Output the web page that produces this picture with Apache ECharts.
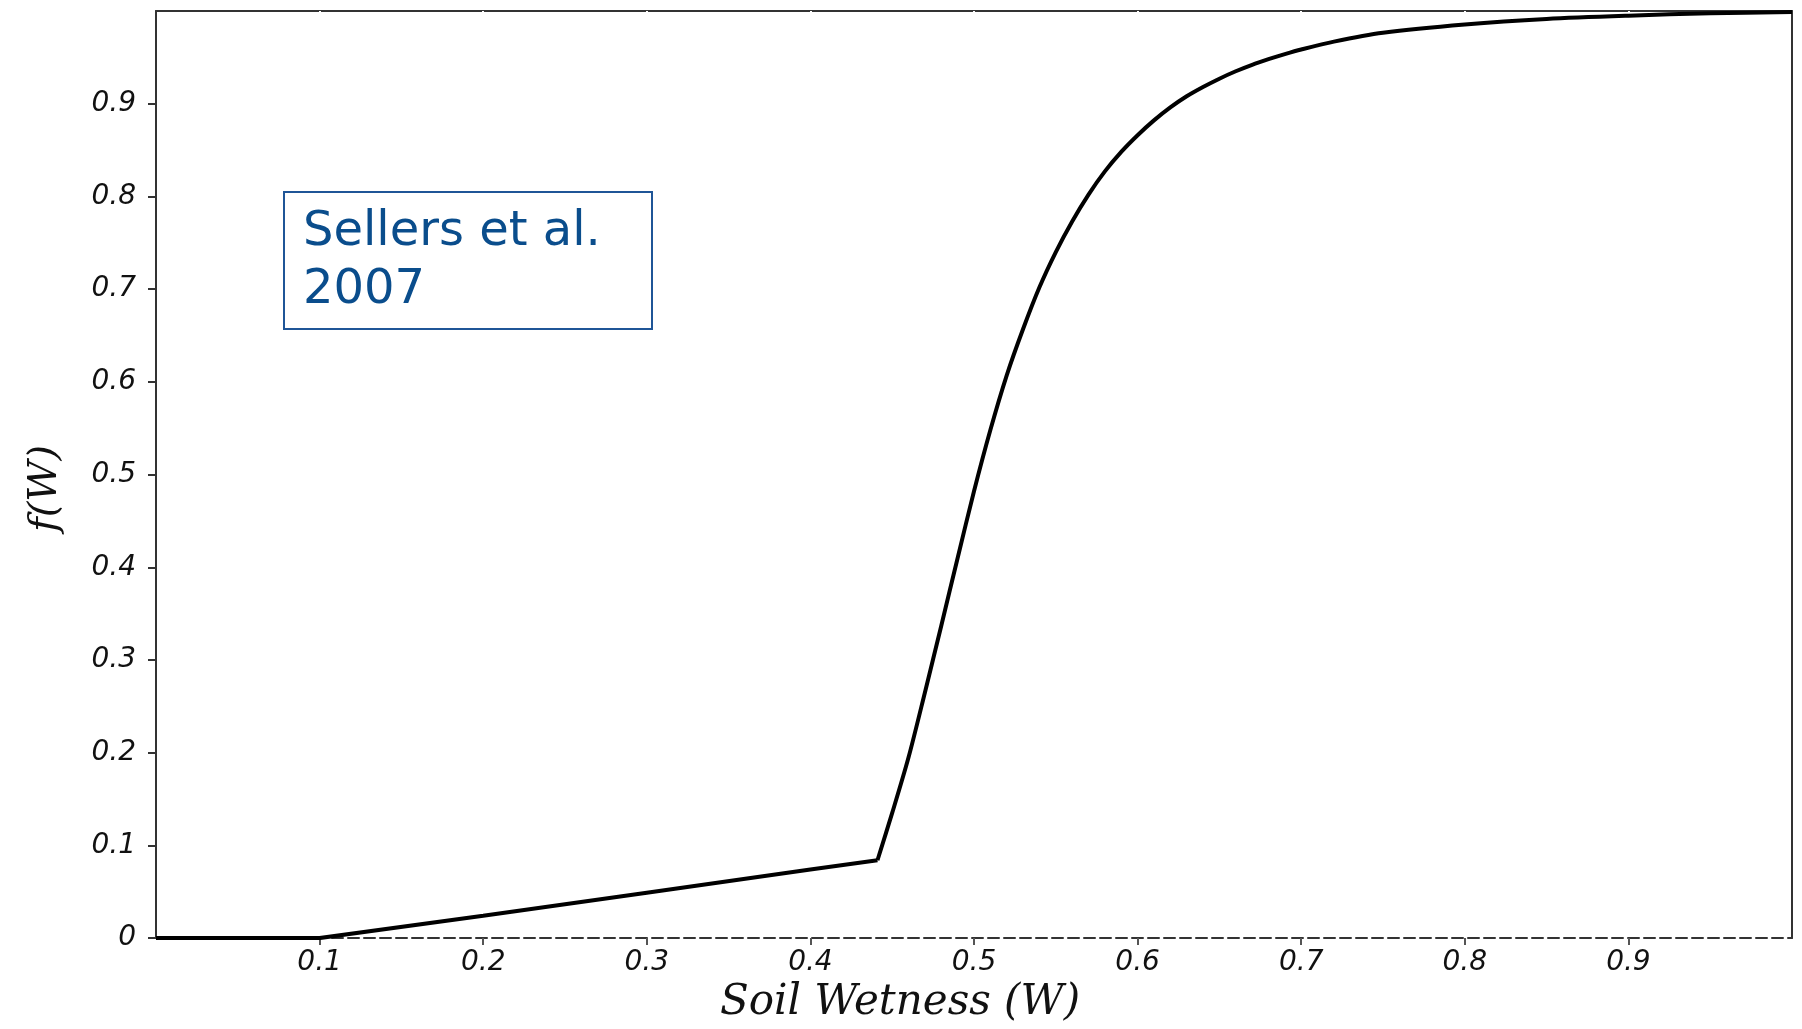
<!DOCTYPE html>
<html>
<head>
<meta charset="utf-8">
<script src="https://cdn.jsdelivr.net/npm/echarts@6/dist/echarts.min.js"></script>
<style>
  html, body { margin: 0; padding: 0; background: #fff; }
  #chart { width: 1802px; height: 1029px; }
</style>
</head>
<body>
<div id="chart"></div>
<script>
// linear stretch (W < 0.44)
var linW = [0, 0.1, 0.2, 0.3, 0.4, 0.441];
var linF = [0, 0, 0.024, 0.049, 0.074, 0.084];
// steep part
var curveW = [0.441, 0.45, 0.46, 0.47, 0.48, 0.49, 0.50, 0.51, 0.52, 0.53, 0.54, 0.55, 0.56, 0.57, 0.58, 0.59, 0.60,
  0.61, 0.62, 0.63, 0.64, 0.65, 0.66, 0.67, 0.68, 0.69, 0.70, 0.72, 0.75, 0.80, 0.85, 0.90, 0.95, 1.0];
var curveF = [0.084, 0.135, 0.195, 0.265, 0.337, 0.41, 0.482, 0.548, 0.607, 0.657, 0.702, 0.740, 0.773, 0.802, 0.827, 0.848, 0.866,
  0.882, 0.896, 0.908, 0.918, 0.927, 0.935, 0.942, 0.948, 0.9535, 0.9585, 0.967, 0.9765, 0.9855, 0.9915, 0.995, 0.9975, 0.999];
var xTicks = [0.1, 0.2, 0.3, 0.4, 0.5, 0.6, 0.7, 0.8, 0.9];
var yTicks = [0, 0.1, 0.2, 0.3, 0.4, 0.5, 0.6, 0.7, 0.8, 0.9];
var noteText = 'Sellers et al.\n2007';

function pairs(xs, ys) {
  var out = [];
  for (var i = 0; i < xs.length; i++) out.push([xs[i], ys[i]]);
  return out;
}
function fmt(v) {
  return v === 0 ? '0' : v.toFixed(1);
}

var labelFont = {
  fontFamily: 'DejaVu Sans',
  fontStyle: 'italic',
  fontSize: 28,
  color: '#111'
};

var chart = echarts.init(document.getElementById('chart'), null, { renderer: 'canvas' });

var option = {
  backgroundColor: '#fff',
  animation: false,
  grid: { left: 156, right: 10, top: 11, bottom: 80 },
  xAxis: [
    {
      type: 'value',
      position: 'bottom',
      min: 0,
      max: 1,
      name: 'Soil Wetness (W)',
      nameLocation: 'middle',
      nameGap: 34,
      nameTextStyle: {
        fontFamily: 'DejaVu Serif',
        fontStyle: 'italic',
        fontSize: 42,
        color: '#111',
        padding: [0, 148, 0, 0]
      },
      axisLine: { show: true, onZero: false, lineStyle: { color: '#333', width: 2, type: [11, 5] } },
      axisTick: { show: true, customValues: xTicks, length: 7, lineStyle: { color: '#555', width: 2 } },
      axisLabel: Object.assign({ customValues: xTicks, margin: 11, formatter: fmt }, labelFont),
      splitLine: { show: false }
    },
    {
      type: 'value',
      position: 'top',
      min: 0,
      max: 1,
      axisLine: { show: true, onZero: false, lineStyle: { color: '#333', width: 2 } },
      axisTick: { show: true, inside: true, customValues: xTicks, length: 3, lineStyle: { color: '#fff', width: 2 } },
      axisLabel: { show: false },
      splitLine: { show: false }
    }
  ],
  yAxis: [
    {
      type: 'value',
      position: 'left',
      min: 0,
      max: 1,
      name: 'f(W)',
      nameLocation: 'middle',
      nameGap: 90,
      nameTextStyle: {
        fontFamily: 'DejaVu Serif',
        fontStyle: 'italic',
        fontSize: 40,
        color: '#111',
        padding: [0, 28, 0, 0]
      },
      axisLine: { show: true, onZero: false, lineStyle: { color: '#333', width: 2 } },
      axisTick: { show: true, customValues: yTicks, length: 8, lineStyle: { color: '#333', width: 2 } },
      axisLabel: Object.assign({ customValues: yTicks, margin: 20, formatter: fmt }, labelFont),
      splitLine: { show: false }
    },
    {
      type: 'value',
      position: 'right',
      min: 0,
      max: 1,
      axisLine: { show: true, onZero: false, lineStyle: { color: '#333', width: 2 } },
      axisTick: { show: false },
      axisLabel: { show: false },
      splitLine: { show: false }
    }
  ],
  series: [
    {
      type: 'line',
      data: pairs(linW, linF),
      showSymbol: false,
      lineStyle: { color: '#000', width: 4 },
      z: 5
    },
    {
      type: 'line',
      data: pairs(curveW, curveF),
      showSymbol: false,
      smooth: 0.3,
      lineStyle: { color: '#000', width: 4 },
      z: 5
    }
  ],
  graphic: [
    {
      type: 'rect',
      left: 283,
      top: 191,
      shape: { width: 368, height: 137 },
      style: { fill: '#fff', stroke: '#1f5597', lineWidth: 2 },
      z: 10
    },
    {
      type: 'text',
      left: 303,
      top: 204,
      style: {
        text: noteText,
        fontFamily: 'DejaVu Sans',
        fontSize: 48,
        lineHeight: 58,
        fill: '#0a4d8c'
      },
      z: 11
    }
  ]
};

chart.setOption(option);
</script>
</body>
</html>
